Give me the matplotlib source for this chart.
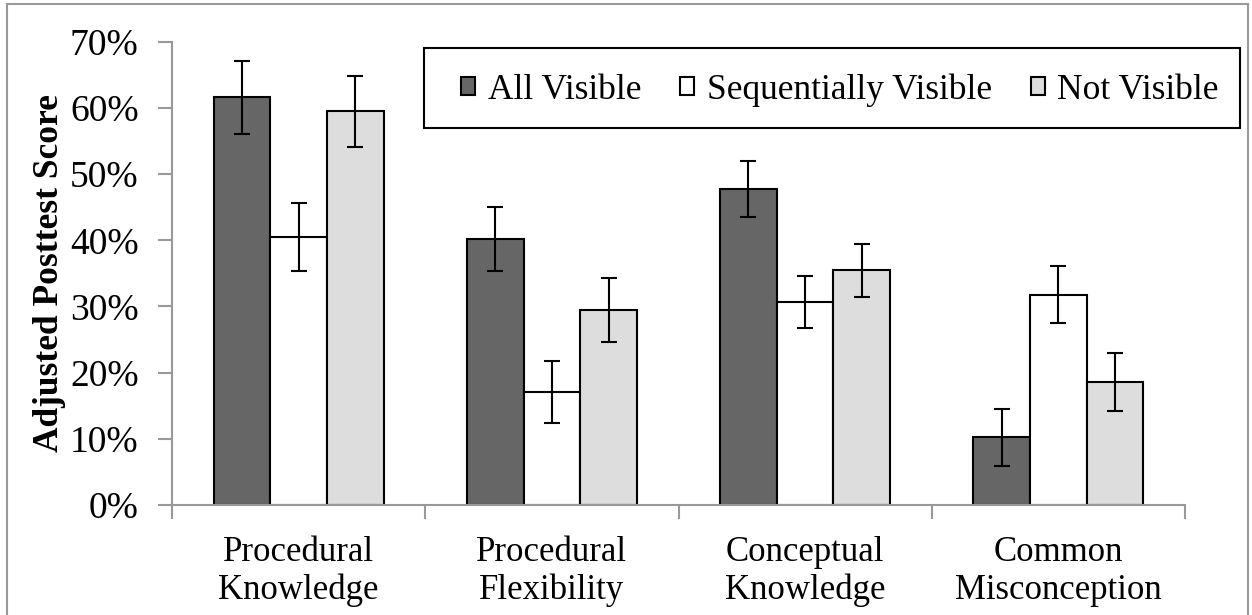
import numpy as np
import matplotlib
matplotlib.use('Agg')
import matplotlib.pyplot as plt
from matplotlib.patches import Rectangle

plt.rcParams['font.family'] = ['Liberation Serif', 'DejaVu Serif']

categories = ['Procedural\nKnowledge', 'Procedural\nFlexibility',
              'Conceptual\nKnowledge', 'Common\nMisconception']
series = ['All Visible', 'Sequentially Visible', 'Not Visible']
all_visible = [61.6, 40.2, 47.7, 10.2]
seq_visible = [40.5, 17.1, 30.7, 31.8]
not_visible = [59.5, 29.5, 35.5, 18.6]
all_err = [5.5, 4.85, 4.25, 4.35]
seq_err = [5.2, 4.7, 3.9, 4.25]
not_err = [5.35, 4.8, 4.0, 4.35]

values = [all_visible, seq_visible, not_visible]
errors = [all_err, seq_err, not_err]
colors = ['#666666', '#ffffff', '#dddddd']

fig = plt.figure(figsize=(12.52, 6.15), dpi=100)
ax = fig.add_axes([172 / 1252, 1 - 505 / 615, (1185 - 172) / 1252, (505 - 41.7) / 615])

x = np.arange(len(categories))
w = 0.224
for i in range(3):
    ax.bar(x + (i - 1) * w, values[i], w, color=colors[i], edgecolor='black',
           linewidth=1.5, label=series[i], zorder=2)
    ax.errorbar(x + (i - 1) * w, values[i], yerr=errors[i], fmt='none',
                ecolor='black', elinewidth=1.5, capsize=6, capthick=1.5, zorder=3)

ax.set_xlim(-0.5, 3.5)
ax.set_ylim(0, 70)
ax.set_yticks(range(0, 71, 10))
ax.set_yticklabels([f'{v}%' for v in range(0, 71, 10)], fontsize=27)
ax.set_xticks(x)
ax.set_xticklabels(categories, fontsize=25, linespacing=1.2)
ax.tick_params(axis='x', length=0, pad=22)
ax.set_xticks(np.arange(-0.5, 4, 1), minor=True)
ax.tick_params(axis='x', which='minor', length=10, color='#999999', width=1.5)
ax.tick_params(axis='y', length=10, color='#999999', width=1.5, pad=14)
for s in ['top', 'right']:
    ax.spines[s].set_visible(False)
for s in ['left', 'bottom']:
    ax.spines[s].set_color('#999999')
    ax.spines[s].set_linewidth(1.5)

ax.set_ylabel('Adjusted Posttest Score', fontsize=25.5, fontweight='bold', labelpad=3)

# legend box drawn separately so the padding can match the original
fig.patches.append(Rectangle((424 / 1252, 1 - 128 / 615), 816 / 1252, 80 / 615,
                             transform=fig.transFigure, fill=False,
                             edgecolor='black', linewidth=1.5, zorder=5))
leg = fig.legend(loc='center', ncol=3,
                 bbox_to_anchor=(840 / 1252, 1 - 90 / 615),
                 fontsize=25.5, frameon=False,
                 handlelength=0.4, handleheight=0.4, handletextpad=0.35,
                 columnspacing=1.1, borderpad=0, borderaxespad=0)

fig.patches.append(Rectangle((7 / 1252, -0.01), 1241 / 1252, 1 - 4 / 615 + 0.01,
                             transform=fig.transFigure, fill=False,
                             edgecolor='#999999', linewidth=1.5))

fig.savefig('out.png', dpi=100)
